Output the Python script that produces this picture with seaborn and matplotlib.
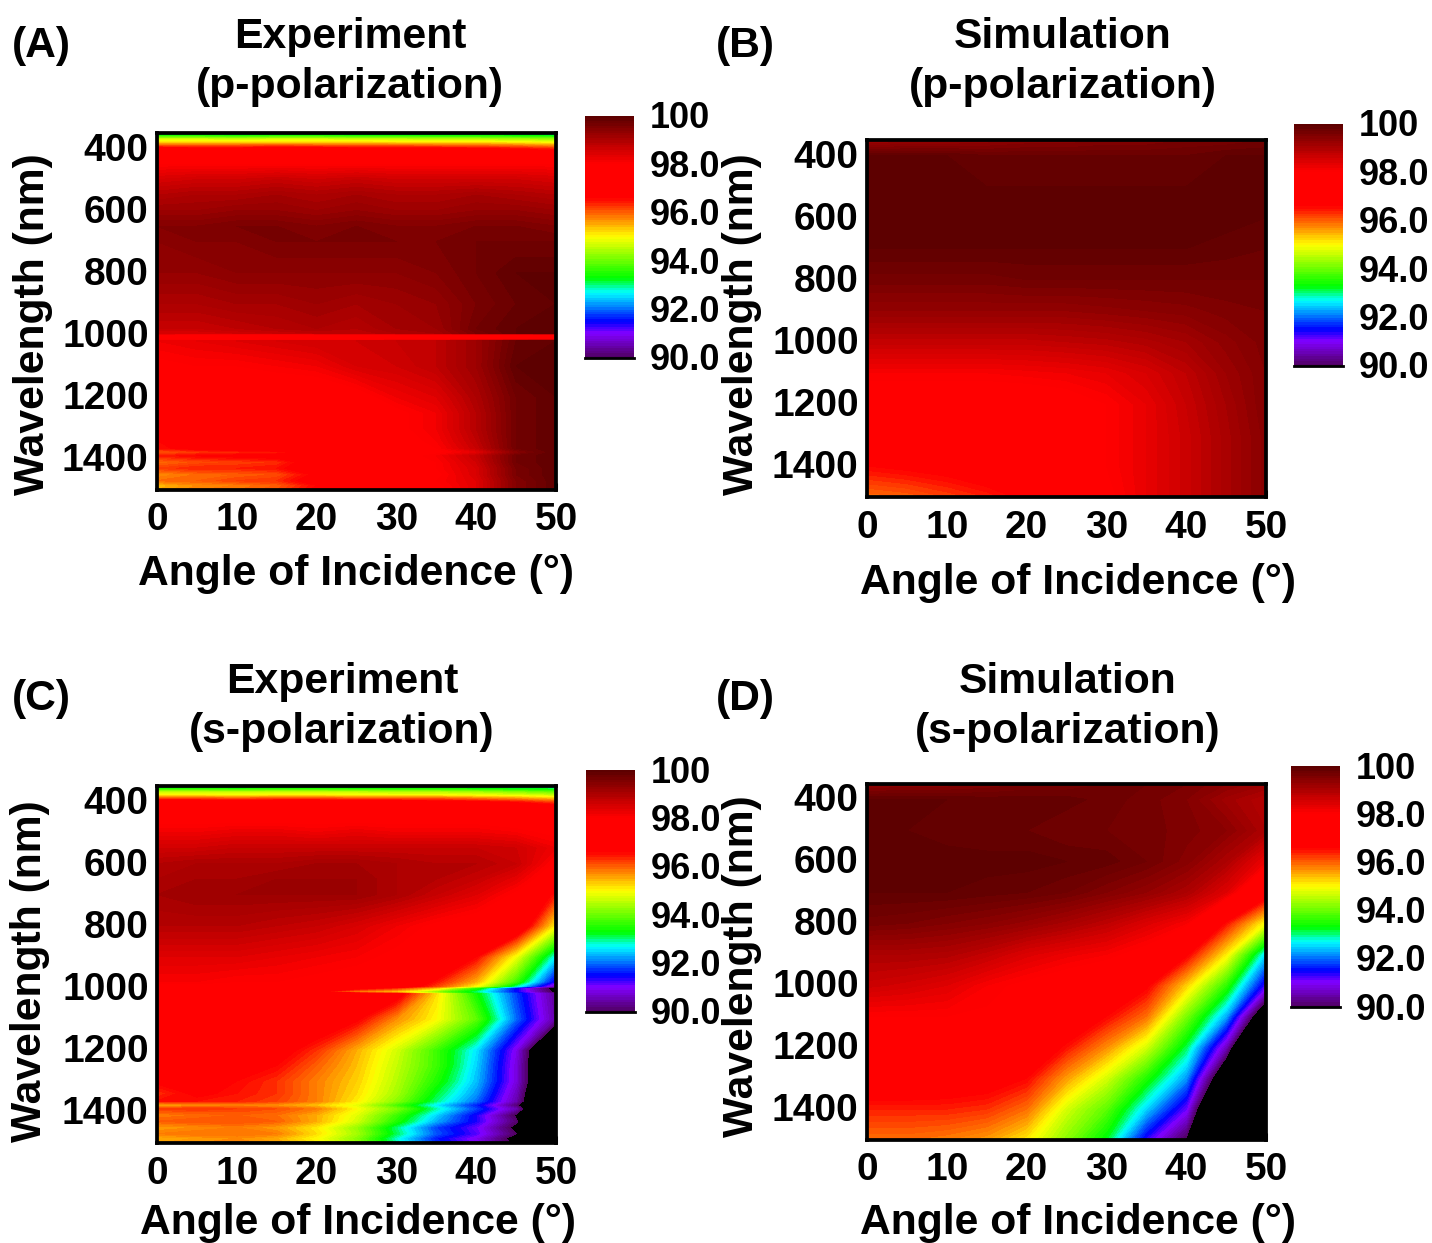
import numpy as np
import pandas as pd
import matplotlib
matplotlib.use("Agg")
import matplotlib.pyplot as plt
import seaborn as sns
from matplotlib.colors import LinearSegmentedColormap
from matplotlib.transforms import ScaledTranslation

W, H = 1432, 1243

angles = [0, 5, 10, 15, 20, 25, 30, 35, 40, 45, 50]
x_ticks = [0, 10, 20, 30, 40, 50]
y_ticks = [400, 600, 800, 1000, 1200, 1400]
cbar_ticks = [100, 98, 96, 94, 92, 90]
cbar_labels = ["100", "98.0", "96.0", "94.0", "92.0", "90.0"]

# colour scale nodes
cmap_values = [90, 91, 91.5, 92.7, 93.3, 95, 96.6, 98.05, 100]
cmap_colors = ["#500060", "#8000ff", "#0000ff", "#00ffff", "#00ff00",
               "#ffff00", "#ff0000", "#ff0000", "#5a0000"]

wave_exp = [350, 360, 370, 380, 390, 400, 420, 450, 500, 550, 600, 650, 700, 800,
            900, 980, 995, 1000, 1014, 1020, 1100, 1200, 1250, 1300, 1340, 1365,
            1378, 1390, 1410, 1430, 1450, 1470, 1485, 1500]
wave_sim = [350, 400, 500, 600, 700, 800, 900, 1000, 1100, 1200, 1300, 1400, 1500]

exp_p = [
    [92.6, 92.6, 92.5, 92.6, 92.6, 92.5, 92.6, 92.6, 92.6, 92.5, 92.4],
    [93.6, 93.6, 93.5, 93.6, 93.6, 93.5, 93.5, 93.5, 93.5, 93.4, 93.3],
    [94.7, 94.7, 94.6, 94.7, 94.7, 94.6, 94.6, 94.5, 94.5, 94.4, 94.3],
    [95.2, 95.2, 95.2, 95.2, 95.2, 95.2, 95.1, 95.1, 95.1, 95.0, 94.9],
    [96.0, 96.0, 96.0, 96.1, 96.0, 96.0, 96.0, 95.9, 95.9, 95.8, 95.6],
    [96.8, 96.7, 96.7, 96.8, 96.8, 96.7, 96.7, 96.7, 96.6, 96.5, 96.3],
    [97.5, 97.5, 97.4, 97.5, 97.5, 97.5, 97.5, 97.4, 97.4, 97.3, 97.2],
    [98.0, 98.0, 98.0, 98.0, 98.0, 98.0, 98.0, 98.0, 98.0, 98.0, 98.0],
    [98.5, 98.6, 98.6, 98.7, 98.6, 98.7, 98.6, 98.6, 98.6, 98.6, 98.5],
    [98.9, 99.0, 99.0, 99.1, 99.0, 99.1, 99.0, 99.0, 99.1, 99.0, 98.9],
    [99.2, 99.2, 99.3, 99.3, 99.2, 99.3, 99.2, 99.2, 99.3, 99.3, 99.2],
    [99.5, 99.5, 99.6, 99.6, 99.5, 99.6, 99.5, 99.5, 99.6, 99.6, 99.5],
    [99.4, 99.5, 99.5, 99.6, 99.6, 99.6, 99.6, 99.6, 99.7, 99.7, 99.7],
    [99.3, 99.3, 99.4, 99.4, 99.4, 99.4, 99.4, 99.5, 99.7, 99.9, 99.9],
    [99.0, 99.0, 99.1, 99.1, 99.2, 99.1, 99.2, 99.3, 99.6, 99.8, 99.9],
    [98.7, 98.7, 98.8, 98.9, 99.0, 98.9, 99.1, 99.2, 99.7, 99.9, 99.9],
    [98.5, 98.5, 98.6, 98.7, 98.8, 98.8, 99.0, 99.1, 99.6, 99.9, 99.9],
    [98.0, 97.7, 97.6, 97.6, 97.6, 97.6, 97.6, 97.6, 97.4, 97.2, 97.4],
    [98.0, 97.7, 97.6, 97.6, 97.6, 97.6, 97.6, 97.6, 97.5, 97.3, 97.4],
    [98.2, 98.3, 98.4, 98.5, 98.6, 98.6, 98.7, 98.8, 99.2, 99.8, 99.9],
    [97.9, 98.0, 98.0, 98.1, 98.2, 98.5, 98.6, 98.8, 99.2, 99.9, 99.9],
    [97.4, 97.5, 97.6, 97.6, 97.6, 97.8, 98.2, 98.4, 99.0, 99.7, 99.9],
    [97.1, 97.4, 97.5, 97.6, 97.6, 97.7, 97.9, 98.2, 98.9, 99.7, 99.9],
    [96.8, 97.2, 97.4, 97.5, 97.6, 97.7, 97.9, 98.2, 98.9, 99.7, 99.9],
    [96.6, 97.0, 97.2, 97.4, 97.5, 97.6, 97.8, 98.1, 98.8, 99.7, 99.9],
    [96.5, 96.8, 97.0, 97.2, 97.5, 97.6, 97.8, 98.0, 98.7, 99.7, 99.9],
    [96.0, 96.2, 96.3, 96.4, 96.9, 97.5, 97.7, 97.9, 98.3, 99.4, 99.9],
    [96.4, 96.6, 96.7, 96.8, 97.2, 97.6, 97.8, 98.1, 98.7, 99.7, 99.9],
    [95.9, 96.1, 96.2, 96.3, 96.9, 97.5, 97.8, 98.0, 98.6, 99.7, 99.9],
    [96.2, 96.4, 96.4, 96.5, 97.0, 97.4, 97.7, 98.0, 98.5, 99.6, 99.9],
    [95.7, 95.9, 96.0, 96.1, 96.7, 97.3, 97.6, 97.9, 98.5, 99.6, 99.9],
    [95.9, 96.0, 96.2, 96.3, 96.9, 97.3, 97.7, 98.0, 98.4, 99.5, 99.9],
    [95.4, 95.7, 95.8, 96.0, 96.6, 97.2, 97.6, 97.9, 98.4, 99.5, 99.9],
    [95.5, 95.8, 95.9, 96.1, 96.7, 97.2, 97.6, 97.9, 98.4, 99.5, 99.9],
]

exp_s = [
    [92.9, 92.9, 92.8, 92.9, 92.9, 92.8, 92.8, 92.8, 92.8, 92.7, 92.5],
    [93.6, 93.6, 93.5, 93.6, 93.6, 93.5, 93.5, 93.5, 93.4, 93.3, 93.2],
    [94.6, 94.6, 94.6, 94.6, 94.6, 94.6, 94.5, 94.5, 94.4, 94.2, 94.0],
    [95.1, 95.1, 95.0, 95.1, 95.1, 95.0, 95.0, 95.0, 94.9, 94.8, 94.6],
    [96.1, 96.1, 96.0, 96.1, 96.1, 96.0, 96.0, 96.0, 95.8, 95.6, 95.3],
    [96.9, 96.9, 96.8, 96.9, 96.9, 96.8, 96.8, 96.7, 96.6, 96.4, 96.0],
    [97.5, 97.5, 97.5, 97.5, 97.5, 97.5, 97.5, 97.5, 97.4, 97.3, 97.1],
    [97.8, 97.8, 97.8, 97.8, 97.8, 97.8, 97.8, 97.8, 97.8, 97.7, 97.6],
    [98.2, 98.2, 98.3, 98.3, 98.2, 98.3, 98.2, 98.2, 98.2, 98.1, 97.9],
    [98.6, 98.6, 98.7, 98.7, 98.7, 98.7, 98.7, 98.7, 98.7, 98.6, 98.2],
    [98.9, 99.0, 99.0, 99.0, 99.1, 99.1, 99.0, 98.9, 98.9, 98.7, 97.9],
    [99.0, 99.1, 99.1, 99.2, 99.2, 99.2, 99.0, 98.9, 98.7, 98.3, 97.6],
    [99.1, 99.2, 99.2, 99.2, 99.2, 99.2, 99.0, 98.7, 98.4, 97.9, 96.4],
    [98.9, 98.9, 98.9, 98.8, 98.7, 98.5, 98.2, 97.9, 97.7, 97.4, 95.0],
    [98.4, 98.4, 98.4, 98.3, 98.2, 98.1, 97.9, 97.7, 96.6, 94.9, 92.6],
    [98.1, 98.1, 98.0, 98.0, 97.9, 97.8, 97.5, 96.5, 95.5, 93.7, 91.3],
    [97.9, 97.9, 97.9, 97.9, 97.8, 97.6, 97.2, 96.2, 95.0, 92.9, 90.5],
    [97.7, 97.7, 97.7, 97.6, 97.4, 96.9, 96.4, 95.4, 93.6, 91.5, 89.6],
    [97.6, 97.6, 97.6, 97.5, 96.6, 95.6, 95.1, 94.0, 92.9, 91.5, 89.8],
    [97.8, 97.8, 97.8, 97.7, 97.6, 97.4, 96.9, 95.2, 93.4, 91.8, 90.3],
    [97.6, 97.6, 97.6, 97.5, 97.2, 96.7, 95.7, 95.0, 93.9, 92.0, 90.4],
    [97.3, 97.3, 97.2, 96.9, 96.3, 95.5, 94.7, 93.7, 92.6, 90.9, 88.0],
    [97.0, 97.1, 97.0, 96.6, 96.0, 95.4, 94.6, 93.7, 92.5, 90.8, 88.0],
    [96.7, 96.9, 96.6, 96.3, 95.8, 95.3, 94.5, 93.5, 92.4, 90.8, 88.0],
    [96.3, 96.7, 96.5, 96.3, 95.8, 95.2, 94.4, 93.2, 92.2, 90.6, 87.8],
    [96.5, 96.5, 96.4, 96.2, 95.8, 95.1, 94.2, 93.0, 92.0, 90.5, 87.7],
    [95.4, 95.6, 95.7, 95.6, 95.3, 94.8, 93.7, 92.6, 91.6, 90.1, 87.5],
    [96.2, 96.3, 96.2, 96.1, 95.8, 95.0, 94.1, 92.9, 91.8, 90.5, 87.5],
    [95.8, 95.9, 96.0, 95.9, 95.5, 94.8, 93.7, 92.5, 91.4, 89.9, 87.5],
    [96.0, 96.1, 96.1, 96.0, 95.5, 94.7, 93.5, 92.3, 91.4, 90.1, 87.3],
    [95.6, 95.7, 95.8, 95.6, 95.1, 94.3, 93.0, 91.8, 91.1, 89.8, 87.2],
    [95.8, 95.9, 95.9, 95.8, 95.2, 94.4, 93.1, 91.9, 91.2, 90.0, 87.1],
    [95.5, 95.6, 95.7, 95.5, 95.0, 94.2, 92.8, 91.6, 90.9, 89.7, 87.0],
    [95.6, 95.7, 95.8, 95.6, 95.1, 94.3, 92.9, 91.7, 91.0, 89.8, 87.0],
]

sim_p = [
    [99.1, 99.2, 99.2, 99.3, 99.4, 99.4, 99.5, 99.5, 99.6, 99.6, 99.7],
    [99.9, 99.9, 99.9, 99.8, 99.8, 99.8, 99.8, 99.8, 99.8, 99.9, 99.9],
    [99.9, 99.9, 99.9, 99.9, 99.9, 99.9, 99.9, 99.9, 99.9, 99.9, 99.95],
    [99.95, 99.95, 99.95, 99.95, 99.95, 99.95, 99.95, 99.95, 99.95, 99.95, 99.9],
    [99.9, 99.9, 99.9, 99.9, 99.9, 99.9, 99.9, 99.9, 99.9, 99.85, 99.8],
    [99.65, 99.65, 99.65, 99.65, 99.7, 99.7, 99.7, 99.7, 99.7, 99.7, 99.7],
    [99.3, 99.3, 99.3, 99.3, 99.3, 99.3, 99.35, 99.4, 99.45, 99.55, 99.6],
    [98.75, 98.75, 98.75, 98.75, 98.75, 98.8, 98.85, 98.95, 99.1, 99.35, 99.55],
    [98.1, 98.1, 98.1, 98.1, 98.15, 98.2, 98.3, 98.5, 98.8, 99.2, 99.5],
    [97.7, 97.7, 97.7, 97.7, 97.7, 97.8, 98.0, 98.3, 98.7, 99.1, 99.5],
    [97.3, 97.3, 97.4, 97.4, 97.5, 97.7, 98.0, 98.3, 98.65, 99.05, 99.45],
    [96.6, 96.7, 96.8, 97.0, 97.2, 97.6, 98.0, 98.3, 98.65, 99.05, 99.45],
    [95.9, 96.0, 96.2, 96.4, 96.7, 97.4, 97.9, 98.3, 98.65, 99.05, 99.45],
]

sim_s = [
    [99.3, 99.4, 99.4, 99.5, 99.6, 99.6, 99.7, 99.7, 99.6, 99.4, 99.2],
    [99.9, 99.9, 99.9, 99.85, 99.85, 99.85, 99.75, 99.65, 99.5, 99.15, 98.9],
    [99.9, 99.9, 99.85, 99.8, 99.8, 99.7, 99.7, 99.65, 99.55, 99.4, 99.0],
    [99.95, 99.95, 99.95, 99.95, 99.95, 99.9, 99.85, 99.7, 99.45, 99.0, 98.2],
    [99.9, 99.9, 99.9, 99.85, 99.8, 99.7, 99.5, 99.3, 99.0, 98.4, 97.0],
    [99.65, 99.6, 99.5, 99.4, 99.25, 99.05, 98.8, 98.45, 98.1, 96.5, 94.9],
    [99.0, 99.0, 98.95, 98.75, 98.45, 98.25, 98.1, 97.8, 96.7, 95.1, 92.5],
    [98.65, 98.55, 98.4, 98.1, 97.9, 97.7, 97.5, 96.7, 95.3, 93.6, 91.2],
    [98.0, 98.0, 98.0, 97.95, 97.9, 97.3, 96.6, 95.9, 94.1, 92.3, 88.8],
    [97.7, 97.7, 97.65, 97.5, 97.3, 96.5, 95.7, 94.7, 93.1, 90.6, 86.0],
    [97.1, 97.1, 97.0, 96.9, 96.6, 95.6, 94.7, 93.5, 92.2, 88.8, 84.0],
    [96.4, 96.4, 96.4, 96.3, 95.9, 94.7, 93.9, 92.5, 91.1, 87.0, 82.0],
    [95.9, 95.9, 95.8, 95.6, 95.1, 94.2, 93.2, 91.3, 89.9, 85.0, 80.0],
]

sns.set_theme(style="ticks")
plt.rcParams["font.family"] = ["Liberation Sans", "DejaVu Sans"]
plt.rcParams["font.weight"] = "bold"
plt.rcParams["text.color"] = "black"
plt.rcParams["xtick.color"] = "black"
plt.rcParams["ytick.color"] = "black"

nodes = [(v - 90) / 10 for v in cmap_values]
cmap = LinearSegmentedColormap.from_list("refl", list(zip(nodes, cmap_colors)), N=256)
cmap.set_under("black")
step = 0.1
levels = np.arange(90, 100 + step / 2, step)

fig = plt.figure(figsize=(W / 100, H / 100), dpi=100)
nudge = ScaledTranslation(0, 2 / 100, fig.dpi_scale_trans)
cbar_nudge = ScaledTranslation(0, 1 / 100, fig.dpi_scale_trans)


def box(x0, y0, x1, y1):
    # pixel box of the reference -> figure fraction
    return [x0 / W, 1 - y1 / H, (x1 - x0) / W, (y1 - y0) / H]


def text_at(x, y, s, size=30.7, rotation=0):
    fig.text(x / W, 1 - y / H, s, ha="center", va="center", fontsize=size,
             fontweight="bold", rotation=rotation, linespacing=1.35)


def draw_panel(pos, cpos, waves, values):
    ax = fig.add_axes(box(*pos))
    df = pd.DataFrame(values, index=waves, columns=angles)
    ax.contourf(df.columns, df.index, df.values, levels=levels, cmap=cmap,
                vmin=90, vmax=100, extend="min")
    ax.set_xlim(0, 50)
    ax.set_ylim(1500, 350)
    ax.set_xticks(x_ticks)
    ax.set_yticks(y_ticks)
    ax.tick_params(direction="in", length=5, width=2.2, labelsize=28, pad=6,
                   top=False, right=False, color="black")
    ax.tick_params(axis="x", pad=9)
    for lab in ax.get_yticklabels():
        lab.set_transform(lab.get_transform() + nudge)
    for sp in ax.spines.values():
        sp.set_visible(True)
        sp.set_color("black")
        sp.set_linewidth(2.7)
    ax.set_zorder(3)

    # colour bar, one column of the contour levels
    cax = fig.add_axes(box(*cpos))
    bar = pd.DataFrame(levels[:-1][::-1] + step / 2)
    sns.heatmap(bar, ax=cax, cmap=cmap, vmin=90, vmax=100, cbar=False,
                xticklabels=False, yticklabels=False)
    cax.set_yticks([(100 - v) / step for v in cbar_ticks])
    cax.set_yticklabels(cbar_labels, rotation=0, ha="left", fontsize=26, fontweight="bold")
    cax.yaxis.tick_right()
    cax.tick_params(axis="y", length=0, pad=11)
    for lab in cax.get_yticklabels():
        lab.set_transform(lab.get_transform() + cbar_nudge)
    cax.spines["bottom"].set_visible(True)
    cax.spines["bottom"].set_color("black")
    cax.spines["bottom"].set_linewidth(2)
    return ax


draw_panel((157, 133, 556, 490), (585, 116, 634, 358), wave_exp, exp_p)
draw_panel((867, 140, 1266, 497), (1294, 124, 1343, 366), wave_sim, sim_p)
draw_panel((157, 786, 556, 1143), (586, 770, 635, 1012), wave_exp, exp_s)
draw_panel((867, 784, 1266, 1140), (1291, 766, 1340, 1007), wave_sim, sim_s)

text_at(41, 46, "(A)")
text_at(745, 46, "(B)")
text_at(41, 699, "(C)")
text_at(745, 699, "(D)")

text_at(350, 62, "Experiment\n(p-polarization)")
text_at(1063, 62, "Simulation\n(p-polarization)")
text_at(342, 707, "Experiment\n(s-polarization)")
text_at(1068, 707, "Simulation\n(s-polarization)")

text_at(356, 574, "Angle of Incidence (°)")
text_at(1078, 583, "Angle of Incidence (°)")
text_at(358, 1223, "Angle of Incidence (°)")
text_at(1078, 1223, "Angle of Incidence (°)")

text_at(33, 324, "Wavelength (nm)", rotation=90)
text_at(742, 324, "Wavelength (nm)", rotation=90)
text_at(30, 971, "Wavelength (nm)", rotation=90)
text_at(742, 966, "Wavelength (nm)", rotation=90)

fig.savefig("out.png", dpi=100, facecolor="white")
